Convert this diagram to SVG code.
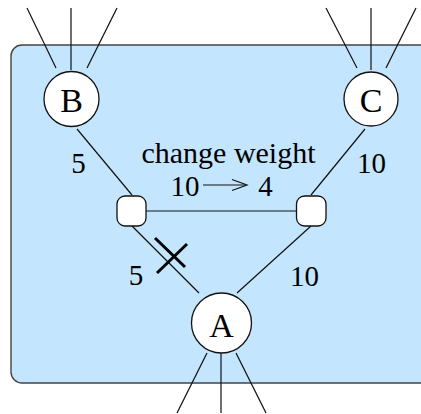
<svg xmlns="http://www.w3.org/2000/svg" width="421" height="414" viewBox="0 0 421 414">
<style>
.ln{stroke:#111;stroke-width:1.2;fill:none}
.nd{fill:#fff;stroke:#111;stroke-width:1.3}
text{fill:#000;text-anchor:middle;font-family:'Liberation Serif',serif}
.lbl{font-size:29px}
.big{font-size:34px}
</style>
<rect x="11" y="45" width="430" height="338" rx="11" fill="#c3e6fe" stroke="#444" stroke-width="1.4"/>
<g id="connectors">
<line class="ln" x1="27" y1="8" x2="56" y2="68"/>
<line class="ln" x1="71" y1="8" x2="71" y2="70"/>
<line class="ln" x1="117" y1="8" x2="87" y2="68"/>
<line class="ln" x1="326" y1="8" x2="357" y2="68"/>
<line class="ln" x1="371" y1="8" x2="371" y2="70"/>
<line class="ln" x1="416" y1="8" x2="386" y2="68"/>
<line class="ln" x1="207" y1="353" x2="177" y2="413"/>
<line class="ln" x1="221" y1="353" x2="221" y2="413"/>
<line class="ln" x1="236" y1="353" x2="266" y2="413"/>
<line class="ln" x1="77" y1="129" x2="132" y2="195"/>
<line class="ln" x1="365" y1="129" x2="311" y2="195"/>
<line class="ln" x1="146" y1="211" x2="296" y2="211"/>
<line class="ln" x1="132" y1="226" x2="199" y2="293"/>
<line class="ln" x1="311" y1="226" x2="237" y2="293"/>
<line stroke="#000" stroke-width="3" x1="157" y1="273" x2="187" y2="244"/>
<line stroke="#000" stroke-width="3" x1="155" y1="238" x2="185" y2="267"/>
</g>
<g id="B"><circle class="nd" cx="71.5" cy="99" r="27.5"/><text class="big" x="71.5" y="112">B</text></g>
<g id="C"><circle class="nd" cx="371" cy="99" r="27"/><text class="big" x="371" y="112">C</text></g>
<g id="A"><circle class="nd" cx="221.5" cy="323" r="30"/><text class="big" x="221.5" y="337">A</text></g>
<g id="L"><rect class="nd" x="117" y="196" width="29" height="30" rx="8"/></g>
<g id="R"><rect class="nd" x="296.5" y="196" width="29.5" height="30" rx="8"/></g>
<g id="labels">
<text class="lbl" x="78.5" y="173">5</text>
<text class="lbl" x="371.5" y="173">10</text>
<text class="lbl" x="136" y="285">5</text>
<text class="lbl" x="304.5" y="286">10</text>
<text class="lbl" x="228.5" y="163" style="font-size:30px">change weight</text>
<text class="lbl" x="185" y="196">10</text>
<text class="lbl" x="265.5" y="196">4</text>
<line class="ln" x1="203" y1="185" x2="246" y2="185"/>
<polyline class="ln" points="232,179.5 247,185 232,190.5"/>
</g>
</svg>
